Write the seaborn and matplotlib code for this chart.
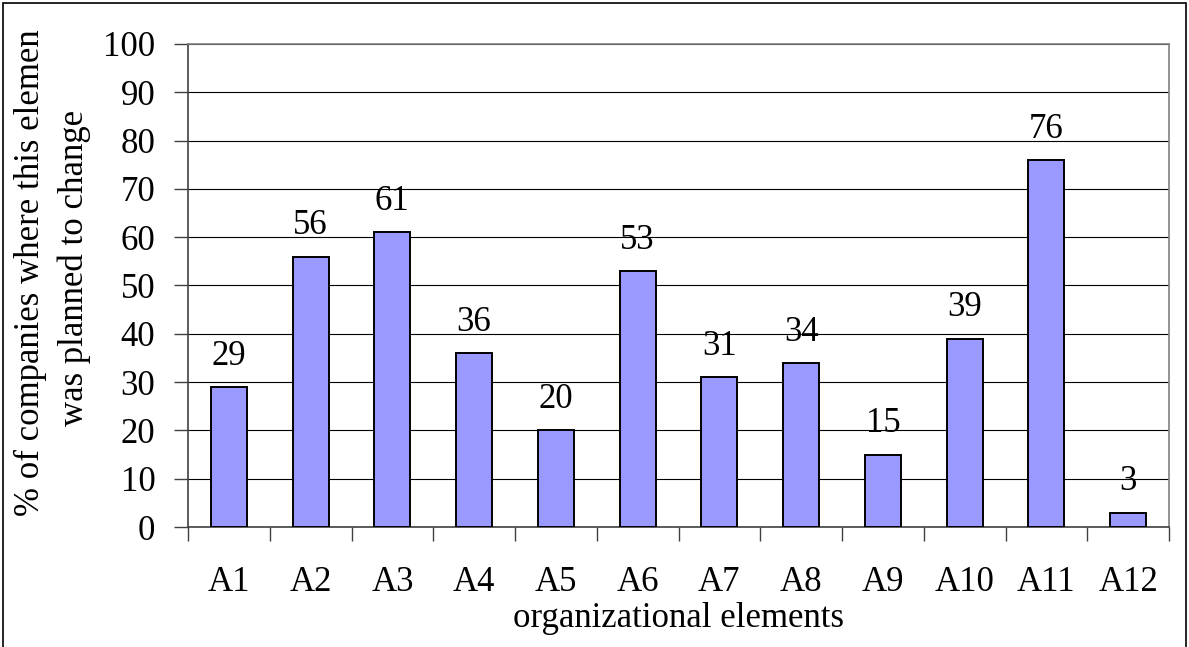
import matplotlib
matplotlib.use("Agg")
import matplotlib.pyplot as plt
import seaborn as sns
import pandas as pd
from matplotlib.patches import Rectangle
from matplotlib.transforms import Bbox, TransformedBbox

# Share of companies planning to change each organizational element (%)
elements = ["A1", "A2", "A3", "A4", "A5", "A6", "A7", "A8", "A9", "A10", "A11", "A12"]
shares = [29, 56, 61, 36, 20, 53, 31, 34, 15, 39, 76, 3]
y_ticks = [0, 10, 20, 30, 40, 50, 60, 70, 80, 90, 100]

FS = 25

sns.set_theme(style="white")
plt.rcParams["font.family"] = ["Liberation Serif", "DejaVu Serif"]
plt.rcParams["font.size"] = FS
plt.rcParams["text.color"] = "black"
plt.rcParams["axes.labelcolor"] = "black"
plt.rcParams["xtick.color"] = "black"
plt.rcParams["ytick.color"] = "black"

W, H = 1189, 647
fig = plt.figure(figsize=(W / 100, H / 100), dpi=100)
fig.patch.set_facecolor("white")

# plot area in pixel coordinates
left, right, top, bottom = 188, 1169, 44, 527
ax = fig.add_axes([left / W, (H - bottom) / H, (right - left) / W, (bottom - top) / H])

df = pd.DataFrame({"element": elements, "share": shares})
sns.barplot(data=df, x="element", y="share", color="#9999FF", saturation=1,
            edgecolor="black", linewidth=1.4, width=0.44, ax=ax, zorder=3)

ax.set_ylim(0, 100)
ax.set_xlim(-0.5, len(elements) - 0.5)
ax.set_yticks(y_ticks)
ax.set_yticklabels([str(t) for t in y_ticks])
ax.yaxis.grid(True, color="black", linewidth=0.8, zorder=0)
ax.set_axisbelow(True)

# tick marks between categories, labels at category centres
ax.set_xticks([i - 0.5 for i in range(len(elements) + 1)])
ax.set_xticklabels([])
ax.set_xticks(range(len(elements)), elements, minor=True)
ax.tick_params(axis="x", which="major", direction="out", length=10, width=1, color="#404040", bottom=True)
ax.tick_params(axis="x", which="minor", length=0, pad=28, labelsize=FS, labelcolor="black")
ax.tick_params(axis="y", direction="out", length=10, width=1, color="#404040", left=True, pad=13.5,
               labelsize=FS, labelcolor="black")

for name, sp in ax.spines.items():
    sp.set_visible(True)
    sp.set_linewidth(1.2)
    sp.set_color("#808080" if name in ("top", "right") else "#404040")

ax.set_xlabel("organizational elements", fontsize=FS, labelpad=2, color="black")
ax.set_ylabel("")

# value labels above bars
for i, v in enumerate(shares):
    ax.annotate(str(v), xy=(i, v), xytext=(0, 16), textcoords="offset points",
                ha="center", va="baseline", fontsize=FS, color="black", zorder=4)

# two-line y axis title, clipped near the top of the figure
clip = TransformedBbox(Bbox([[0, 0], [1, (H - 30) / H]]), fig.transFigure)
for x_px, line in [(30, "% of companies where this element"), (74, "was planned to change")]:
    t = fig.text(x_px / W, (H - 268) / H, line, rotation=90, ha="center", va="center",
                 fontsize=FS, color="black")
    t.set_clip_box(clip)
    t.set_clip_on(True)

# chart border
fig.add_artist(Rectangle((3 / W, -0.02), (1186 - 3) / W, (H - 3) / H + 0.02,
                         transform=fig.transFigure, fill=False, edgecolor="black", linewidth=1.2))

fig.savefig("out.png", dpi=100)
